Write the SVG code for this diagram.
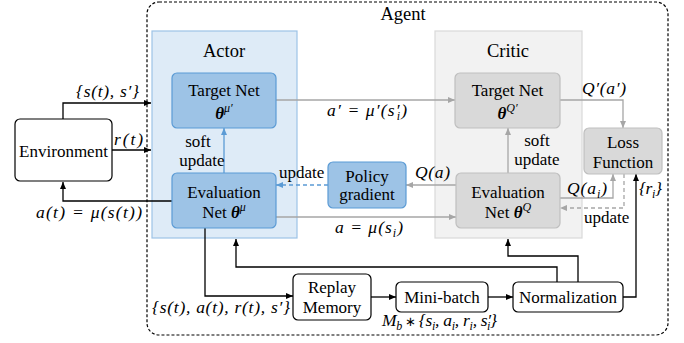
<svg xmlns="http://www.w3.org/2000/svg" width="684" height="343" viewBox="0 0 684 343">
  <style>
    .c { text-anchor: middle; }
    .h { font-size: 18.5px; }
    .m { font-style: italic; font-size: 17.5px; }
    .bt { font-weight: bold; font-style: italic; }
    .sub { font-size: 12px; }
    .op { font-style: normal; font-size: 13px; }
    .blue { fill: #9dc3e6; stroke: #5b9bd5; stroke-width: 1.2; }
    .grey { fill: #d9d9d9; stroke: #bfbfbf; stroke-width: 1.2; }
    .plain { fill: #fff; stroke: #000; stroke-width: 1.2; }
    .k { fill: none; stroke: #000; stroke-width: 1.3; marker-end: url(#ak); }
    .g { fill: none; stroke: #a6a6a6; stroke-width: 1.3; marker-end: url(#ag); }
    .gd { fill: none; stroke: #a6a6a6; stroke-width: 1.3; stroke-dasharray: 4 3; marker-end: url(#ag); }
    .b { fill: none; stroke: #5b9bd5; stroke-width: 1.3; marker-end: url(#ab); }
    .bd { fill: none; stroke: #5b9bd5; stroke-width: 1.3; stroke-dasharray: 4 3; marker-end: url(#ab); }
  </style>
  <defs>
    <marker id="ak" markerUnits="userSpaceOnUse" markerWidth="7" markerHeight="6" refX="7" refY="3" orient="auto">
      <path d="M0,0 L7,3 L0,6 z" fill="#000"/>
    </marker>
    <marker id="ag" markerUnits="userSpaceOnUse" markerWidth="7" markerHeight="6" refX="7" refY="3" orient="auto">
      <path d="M0,0 L7,3 L0,6 z" fill="#a6a6a6"/>
    </marker>
    <marker id="ab" markerUnits="userSpaceOnUse" markerWidth="7" markerHeight="6" refX="7" refY="3" orient="auto">
      <path d="M0,0 L7,3 L0,6 z" fill="#5b9bd5"/>
    </marker>
  </defs>

  <rect width="684" height="343" fill="#fff"/>

  <g font-family="Liberation Serif, Times New Roman, serif" font-size="17" fill="#000">

  <!-- agent boundary -->
  <g id="agent">
    <rect x="147" y="2" width="521" height="333" rx="12" fill="none" stroke="#000" stroke-width="1.2" stroke-dasharray="3 2"/>
    <text class="c h" x="403" y="20">Agent</text>
  </g>

  <!-- actor and critic panels -->
  <g id="actor-panel">
    <rect x="152" y="31" width="145" height="207" fill="#deebf7" stroke="#9dc3e6" stroke-width="1.2"/>
    <text class="c h" x="224" y="57">Actor</text>
  </g>
  <g id="critic-panel">
    <rect x="435" y="31" width="147" height="207" fill="#f2f2f2" stroke="#d9d9d9" stroke-width="1.2"/>
    <text class="c h" x="508" y="57">Critic</text>
  </g>

  <!-- connectors -->
  <g id="connectors">
    <path class="k" d="M63,119 V103 H151"/>
    <path class="k" d="M112,150 H151"/>
    <path class="k" d="M172,201 H63 V182"/>
    <path class="b" d="M224,173 V128"/>
    <path class="g" d="M276,100 H455"/>
    <path class="bd" d="M328,185 H276"/>
    <path class="g" d="M456,185 H406"/>
    <path class="g" d="M276,217 H456"/>
    <path class="g" d="M508,173 V128"/>
    <path class="g" d="M560,100 H623 V128"/>
    <path class="g" d="M560,198 H613 V174"/>
    <path class="gd" d="M624,174 V208 H560"/>
    <path class="k" d="M205,228 V296 H293"/>
    <path class="k" d="M371,297 H396"/>
    <path class="k" d="M488,297 H513"/>
    <path class="k" d="M557,282 V267 H236 V239"/>
    <path class="k" d="M578,282 V256 H508 V239"/>
    <path class="k" d="M623,297 H636 V174"/>
  </g>

  <!-- connector labels -->
  <g id="labels">
    <text class="m" x="76" y="97" textLength="63" lengthAdjust="spacing">{s(t), s′}</text>
    <text class="m" x="114" y="145" textLength="29" lengthAdjust="spacing">r(t)</text>
    <text class="m" x="36" y="218" textLength="106" lengthAdjust="spacing">a(t) = μ(s(t))</text>
    <text class="c" x="198" y="147">soft</text>
    <text class="c" x="202" y="166">update</text>
    <text class="m" x="327" y="116" textLength="80" lengthAdjust="spacing">a′ = μ′(s′<tspan class="sub" dx="-4" dy="4">i</tspan><tspan dy="-4">)</tspan></text>
    <text x="279" y="178">update</text>
    <text class="m" x="415" y="178" textLength="35" lengthAdjust="spacing">Q(a)</text>
    <text class="m" x="335" y="233" textLength="68" lengthAdjust="spacing">a = μ(s<tspan class="sub" dy="4">i</tspan><tspan dy="-4">)</tspan></text>
    <text class="c" x="537" y="146">soft</text>
    <text class="c" x="537" y="165">update</text>
    <text class="m" x="582" y="94" textLength="44" lengthAdjust="spacing">Q′(a′)</text>
    <text class="m" x="567" y="194" textLength="40" lengthAdjust="spacing">Q(a<tspan class="sub" dy="4">i</tspan><tspan dy="-4">)</tspan></text>
    <text class="m" x="639" y="194" textLength="23" lengthAdjust="spacing">{r<tspan class="sub" dy="4">i</tspan><tspan dy="-4">}</tspan></text>
    <text x="584" y="223">update</text>
    <text class="m" x="152" y="313" textLength="138" lengthAdjust="spacing">{s(t), a(t), r(t), s′}</text>
    <text class="m" x="382" y="326" textLength="115" lengthAdjust="spacing">M<tspan class="sub" dy="4">b</tspan><tspan class="op" dy="-4"> ∗ </tspan><tspan>{s</tspan><tspan class="sub" dy="4">i</tspan><tspan dy="-4">, a</tspan><tspan class="sub" dy="4">i</tspan><tspan dy="-4">, r</tspan><tspan class="sub" dy="4">i</tspan><tspan dy="-4">, s′</tspan><tspan class="sub" dx="-4" dy="4">i</tspan><tspan dy="-4">}</tspan></text>
  </g>

  <!-- nodes -->
  <g id="environment">
    <rect class="plain" x="15" y="119" width="97" height="62" rx="5"/>
    <text class="c" x="63.5" y="157">Environment</text>
  </g>
  <g id="actor-target">
    <rect class="blue" x="172" y="73" width="104" height="55" rx="5"/>
    <text class="c" x="224" y="96">Target Net</text>
    <text class="c" x="224" y="119"><tspan class="bt">θ</tspan><tspan class="m sub" dy="-7">μ′</tspan></text>
  </g>
  <g id="actor-eval">
    <rect class="blue" x="172" y="173" width="104" height="55" rx="5"/>
    <text class="c" x="224" y="198">Evaluation</text>
    <text class="c" x="224" y="218">Net <tspan class="bt">θ</tspan><tspan class="m sub" dy="-7">μ</tspan></text>
  </g>
  <g id="policy-gradient">
    <rect class="blue" x="328" y="162" width="78" height="46" rx="5"/>
    <text class="c" x="367" y="182">Policy</text>
    <text class="c" x="367" y="200">gradient</text>
  </g>
  <g id="critic-target">
    <rect class="grey" x="455" y="73" width="105" height="55" rx="5"/>
    <text class="c" x="507.5" y="96">Target Net</text>
    <text class="c" x="507.5" y="119"><tspan class="bt">θ</tspan><tspan class="m sub" dy="-7">Q′</tspan></text>
  </g>
  <g id="critic-eval">
    <rect class="grey" x="456" y="173" width="104" height="55" rx="5"/>
    <text class="c" x="508" y="198">Evaluation</text>
    <text class="c" x="508" y="218">Net <tspan class="bt">θ</tspan><tspan class="m sub" dy="-7">Q</tspan></text>
  </g>
  <g id="loss-function">
    <rect class="grey" x="584" y="128" width="78" height="46" rx="5"/>
    <text class="c" x="623" y="148">Loss</text>
    <text class="c" x="623" y="168">Function</text>
  </g>
  <g id="replay-memory">
    <rect class="plain" x="293" y="274" width="78" height="46" rx="5"/>
    <text class="c" x="332" y="293">Replay</text>
    <text class="c" x="332" y="313">Memory</text>
  </g>
  <g id="mini-batch">
    <rect class="plain" x="396" y="282" width="92" height="30" rx="5"/>
    <text class="c" x="442" y="303">Mini-batch</text>
  </g>
  <g id="normalization">
    <rect class="plain" x="513" y="282" width="110" height="30" rx="5"/>
    <text class="c" x="568" y="303">Normalization</text>
  </g>

  </g>
</svg>
